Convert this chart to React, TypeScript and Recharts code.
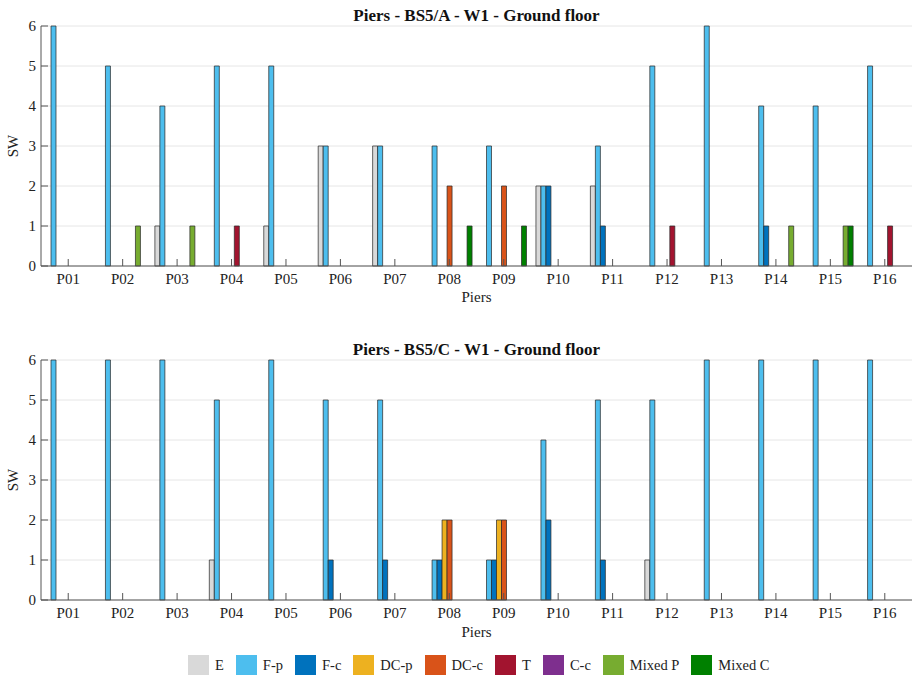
import { BarChart, Bar, XAxis, YAxis, CartesianGrid } from 'recharts';

const FONT = 'Liberation Serif, serif';

const piers = ['P01', 'P02', 'P03', 'P04', 'P05', 'P06', 'P07', 'P08', 'P09', 'P10', 'P11', 'P12', 'P13', 'P14', 'P15', 'P16'];
const seriesNames = ['E', 'F-p', 'F-c', 'DC-p', 'DC-c', 'T', 'C-c', 'Mixed P', 'Mixed C'];
const seriesColors = ['#d9d9d9', '#4dbeee', '#0072bd', '#edb120', '#d95319', '#a2142f', '#7e2f8e', '#77ac30', '#008000'];
const yTicks = [0, 1, 2, 3, 4, 5, 6];

// BS5/A - W1 - Ground floor
const aE = [0, 0, 1, 0, 1, 3, 3, 0, 0, 2, 2, 0, 0, 0, 0, 0];
const aFp = [6, 5, 4, 5, 5, 3, 3, 3, 3, 2, 3, 5, 6, 4, 4, 5];
const aFc = [0, 0, 0, 0, 0, 0, 0, 0, 0, 2, 1, 0, 0, 1, 0, 0];
const aDCp = [0, 0, 0, 0, 0, 0, 0, 0, 0, 0, 0, 0, 0, 0, 0, 0];
const aDCc = [0, 0, 0, 0, 0, 0, 0, 2, 2, 0, 0, 0, 0, 0, 0, 0];
const aT = [0, 0, 0, 1, 0, 0, 0, 0, 0, 0, 0, 1, 0, 0, 0, 1];
const aCc = [0, 0, 0, 0, 0, 0, 0, 0, 0, 0, 0, 0, 0, 0, 0, 0];
const aMixP = [0, 1, 1, 0, 0, 0, 0, 0, 0, 0, 0, 0, 0, 1, 1, 0];
const aMixC = [0, 0, 0, 0, 0, 0, 0, 1, 1, 0, 0, 0, 0, 0, 1, 0];

// BS5/C - W1 - Ground floor
const cE = [0, 0, 0, 1, 0, 0, 0, 0, 0, 0, 0, 1, 0, 0, 0, 0];
const cFp = [6, 6, 6, 5, 6, 5, 5, 1, 1, 4, 5, 5, 6, 6, 6, 6];
const cFc = [0, 0, 0, 0, 0, 1, 1, 1, 1, 2, 1, 0, 0, 0, 0, 0];
const cDCp = [0, 0, 0, 0, 0, 0, 0, 2, 2, 0, 0, 0, 0, 0, 0, 0];
const cDCc = [0, 0, 0, 0, 0, 0, 0, 2, 2, 0, 0, 0, 0, 0, 0, 0];
const cT = [0, 0, 0, 0, 0, 0, 0, 0, 0, 0, 0, 0, 0, 0, 0, 0];
const cCc = [0, 0, 0, 0, 0, 0, 0, 0, 0, 0, 0, 0, 0, 0, 0, 0];
const cMixP = [0, 0, 0, 0, 0, 0, 0, 0, 0, 0, 0, 0, 0, 0, 0, 0];
const cMixC = [0, 0, 0, 0, 0, 0, 0, 0, 0, 0, 0, 0, 0, 0, 0, 0];

const buildRows = (cols: number[][]) =>
  piers.map((name, i) => {
    const row: Record<string, string | number> = { name };
    seriesNames.forEach((s, k) => {
      row[s] = cols[k][i];
    });
    return row;
  });

const dataA = buildRows([aE, aFp, aFc, aDCp, aDCc, aT, aCc, aMixP, aMixC]);
const dataC = buildRows([cE, cFp, cFc, cDCp, cDCc, cT, cCc, cMixP, cMixC]);

const AXIS = '#555';
const TICK_LEN = 7;

const BottomTick = ({ x, y, payload }: any) => (
  <g>
    <line x1={x} y1={y} x2={x} y2={y - TICK_LEN} stroke={AXIS} strokeWidth={1} />
    <text x={x} y={y + 18} textAnchor="middle" style={{ fontFamily: FONT, fontSize: 15 }} fill="#222">
      {payload.value}
    </text>
  </g>
);

const TopTick = ({ x, y }: any) => (
  <line x1={x} y1={y} x2={x} y2={y + TICK_LEN} stroke={AXIS} strokeWidth={1} />
);

const LeftTick = ({ x, y, payload }: any) => (
  <g>
    <line x1={x} y1={y} x2={x + TICK_LEN} y2={y} stroke={AXIS} strokeWidth={1} />
    <text x={x - 5} y={y + 5} textAnchor="end" style={{ fontFamily: FONT, fontSize: 15 }} fill="#222">
      {payload.value}
    </text>
  </g>
);

const RightTick = ({ x, y }: any) => (
  <line x1={x} y1={y} x2={x - TICK_LEN} y2={y} stroke={AXIS} strokeWidth={1} />
);

function PierChart({ data }: { data: Record<string, string | number>[] }) {
  return (
    <BarChart
      width={916}
      height={300}
      data={data}
      margin={{ top: 26, right: 4, left: 0, bottom: 0 }}
      barSize={5}
      barGap={0}
    >
      <CartesianGrid vertical={false} stroke="#e6e6e6" />
      <XAxis
        dataKey="name"
        height={34}
        axisLine={{ stroke: AXIS }}
        tickLine={false}
        tickSize={0}
        tickMargin={0}
        interval={0}
        tick={<BottomTick />}
      />
      <XAxis
        xAxisId="top"
        orientation="top"
        dataKey="name"
        height={0}
        axisLine={{ stroke: AXIS }}
        tickLine={false}
        tickSize={0}
        tickMargin={0}
        interval={0}
        tick={<TopTick />}
      />
      <YAxis
        width={41}
        domain={[0, 6]}
        ticks={yTicks}
        type="number"
        axisLine={{ stroke: AXIS }}
        tickLine={false}
        tickSize={0}
        tickMargin={0}
        interval={0}
        tick={<LeftTick />}
      />
      <YAxis
        yAxisId="right"
        orientation="right"
        width={0}
        domain={[0, 6]}
        ticks={yTicks}
        type="number"
        axisLine={{ stroke: AXIS }}
        tickLine={false}
        tickSize={0}
        tickMargin={0}
        interval={0}
        tick={<RightTick />}
      />
      {seriesNames.map((s, k) => (
        <Bar
          key={s}
          dataKey={s}
          fill={seriesColors[k]}
          stroke="#2a2a2a"
          strokeOpacity={0.9}
          strokeWidth={0.8}
          isAnimationActive={false}
        />
      ))}
    </BarChart>
  );
}

const textStyle = (size: number, bold = false) => ({
  fontFamily: FONT,
  fontSize: size,
  fontWeight: bold ? 700 : 400,
});

export default function App() {
  const plotCenter = (41 + 912) / 2;
  return (
    <div style={{ position: 'absolute', left: 0, top: 0, width: 916, height: 678, background: '#fff', fontFamily: FONT }}>
      <div style={{ position: 'absolute', left: 0, top: 0 }}>
        <PierChart data={dataA} />
      </div>
      <div style={{ position: 'absolute', left: 0, top: 334 }}>
        <PierChart data={dataC} />
      </div>
      <svg width={916} height={678} style={{ position: 'absolute', left: 0, top: 0, pointerEvents: 'none' }}>
        <text x={plotCenter} y={21} textAnchor="middle" style={textStyle(17, true)} fill="#111">
          Piers - BS5/A - W1 - Ground floor
        </text>
        <text x={plotCenter} y={355} textAnchor="middle" style={textStyle(17, true)} fill="#111">
          Piers - BS5/C - W1 - Ground floor
        </text>
        <text x={plotCenter} y={302} textAnchor="middle" style={textStyle(15)} fill="#222">
          Piers
        </text>
        <text x={plotCenter} y={637} textAnchor="middle" style={textStyle(15)} fill="#222">
          Piers
        </text>
        <text x={18} y={146} transform="rotate(-90 18 146)" textAnchor="middle" style={textStyle(15)} fill="#222">
          SW
        </text>
        <text x={18} y={480} transform="rotate(-90 18 480)" textAnchor="middle" style={textStyle(15)} fill="#222">
          SW
        </text>
      </svg>
      <div
        style={{
          position: 'absolute',
          left: 188,
          top: 655,
          display: 'flex',
          alignItems: 'center',
          fontFamily: FONT,
          fontSize: 14.5,
          color: '#222',
          whiteSpace: 'nowrap',
        }}
      >
        {seriesNames.map((s, k) => (
          <div key={s} style={{ display: 'flex', alignItems: 'center', marginRight: k < seriesNames.length - 1 ? 12 : 0 }}>
            <span style={{ display: 'inline-block', width: 21, height: 20, background: seriesColors[k], marginRight: 6 }} />
            <span>{s}</span>
          </div>
        ))}
      </div>
    </div>
  );
}
